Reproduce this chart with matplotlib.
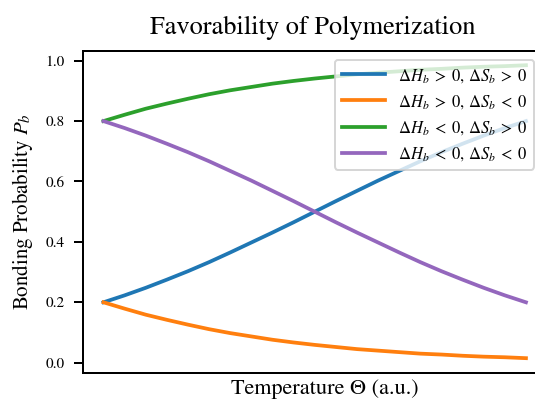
import matplotlib
matplotlib.use("Agg")
import matplotlib.pyplot as plt
import numpy as np

plt.rcParams['font.family'] = ['STIXGeneral', 'DejaVu Serif']
plt.rcParams['mathtext.fontset'] = 'stix'

# Temperature (arbitrary units), read positions across the x range
temperature = [0.00, 0.05, 0.10, 0.15, 0.20, 0.25, 0.30, 0.35, 0.40, 0.45, 0.50,
               0.55, 0.60, 0.65, 0.70, 0.75, 0.80, 0.85, 0.90, 0.95, 1.00]

p_hpos_spos = [0.200, 0.223, 0.248, 0.275, 0.303, 0.333, 0.365, 0.398, 0.431, 0.465, 0.500,
               0.535, 0.569, 0.603, 0.635, 0.667, 0.697, 0.725, 0.752, 0.777, 0.800]
p_hpos_sneg = [0.200, 0.179, 0.159, 0.142, 0.126, 0.111, 0.098, 0.087, 0.076, 0.067, 0.059,
               0.052, 0.045, 0.040, 0.035, 0.030, 0.027, 0.023, 0.020, 0.018, 0.015]
p_hneg_spos = [0.800, 0.821, 0.841, 0.858, 0.874, 0.889, 0.902, 0.913, 0.924, 0.933, 0.941,
               0.948, 0.955, 0.960, 0.965, 0.970, 0.973, 0.977, 0.980, 0.982, 0.985]
p_hneg_sneg = [0.800, 0.777, 0.752, 0.725, 0.697, 0.667, 0.635, 0.603, 0.569, 0.535, 0.500,
               0.465, 0.431, 0.398, 0.365, 0.333, 0.303, 0.275, 0.248, 0.223, 0.200]

labels = [r'$\Delta H_b \;>\; 0$, $\Delta S_b \;>\; 0$',
          r'$\Delta H_b \;>\; 0$, $\Delta S_b \;<\; 0$',
          r'$\Delta H_b \;<\; 0$, $\Delta S_b \;>\; 0$',
          r'$\Delta H_b \;<\; 0$, $\Delta S_b \;<\; 0$']
colors = ['#1f77b4', '#ff7f0e', '#2ca02c', '#9467bd']
yticks = [0.0, 0.2, 0.4, 0.6, 0.8, 1.0]

W, H = 535, 400
fig = plt.figure(figsize=(W / 100, H / 100), dpi=100)
ax = fig.add_axes([83 / W, (H - 373) / H, (542 - 83) / W, (373 - 51) / H])

for series, lab, col in zip([p_hpos_spos, p_hpos_sneg, p_hneg_spos, p_hneg_sneg], labels, colors):
    ax.plot(temperature, series, color=col, lw=2.7, label=lab, solid_capstyle='projecting')

ax.set_xlim(-0.0485, 1.038)
ax.set_ylim(-0.0341, 1.0321)
ax.set_xticks([])
ax.set_yticks(yticks)
ax.set_yticklabels([f'{v:.1f}' for v in yticks])
ax.tick_params(axis='y', length=6.2, width=1.44, pad=7, labelsize=11)
for sp in ax.spines.values():
    sp.set_linewidth(1.44)

ax.set_title('Favorability of Polymerization', fontsize=19, pad=12)
ax.set_xlabel('Temperature \u0398 (a.u.)', fontsize=16)
ax.xaxis.set_label_coords((325 - 83) / (542 - 83), -(394 - 373) / (373 - 51))
ax.xaxis.label.set_verticalalignment('baseline')
ax.set_ylabel(r'Bonding Probability $P_b$', fontsize=15)
ax.yaxis.set_label_coords(-(83 - 35) / (542 - 83), 0.5)

leg = ax.legend(loc='upper right', bbox_to_anchor=(534 / W, 1 - 60 / H),
                bbox_transform=fig.transFigure, borderaxespad=0, fontsize=12,
                framealpha=0.8, edgecolor='0.8', handlelength=2.6, handletextpad=0.75)
leg.get_frame().set_linewidth(1.44)

fig.savefig('out.png', dpi=100)
